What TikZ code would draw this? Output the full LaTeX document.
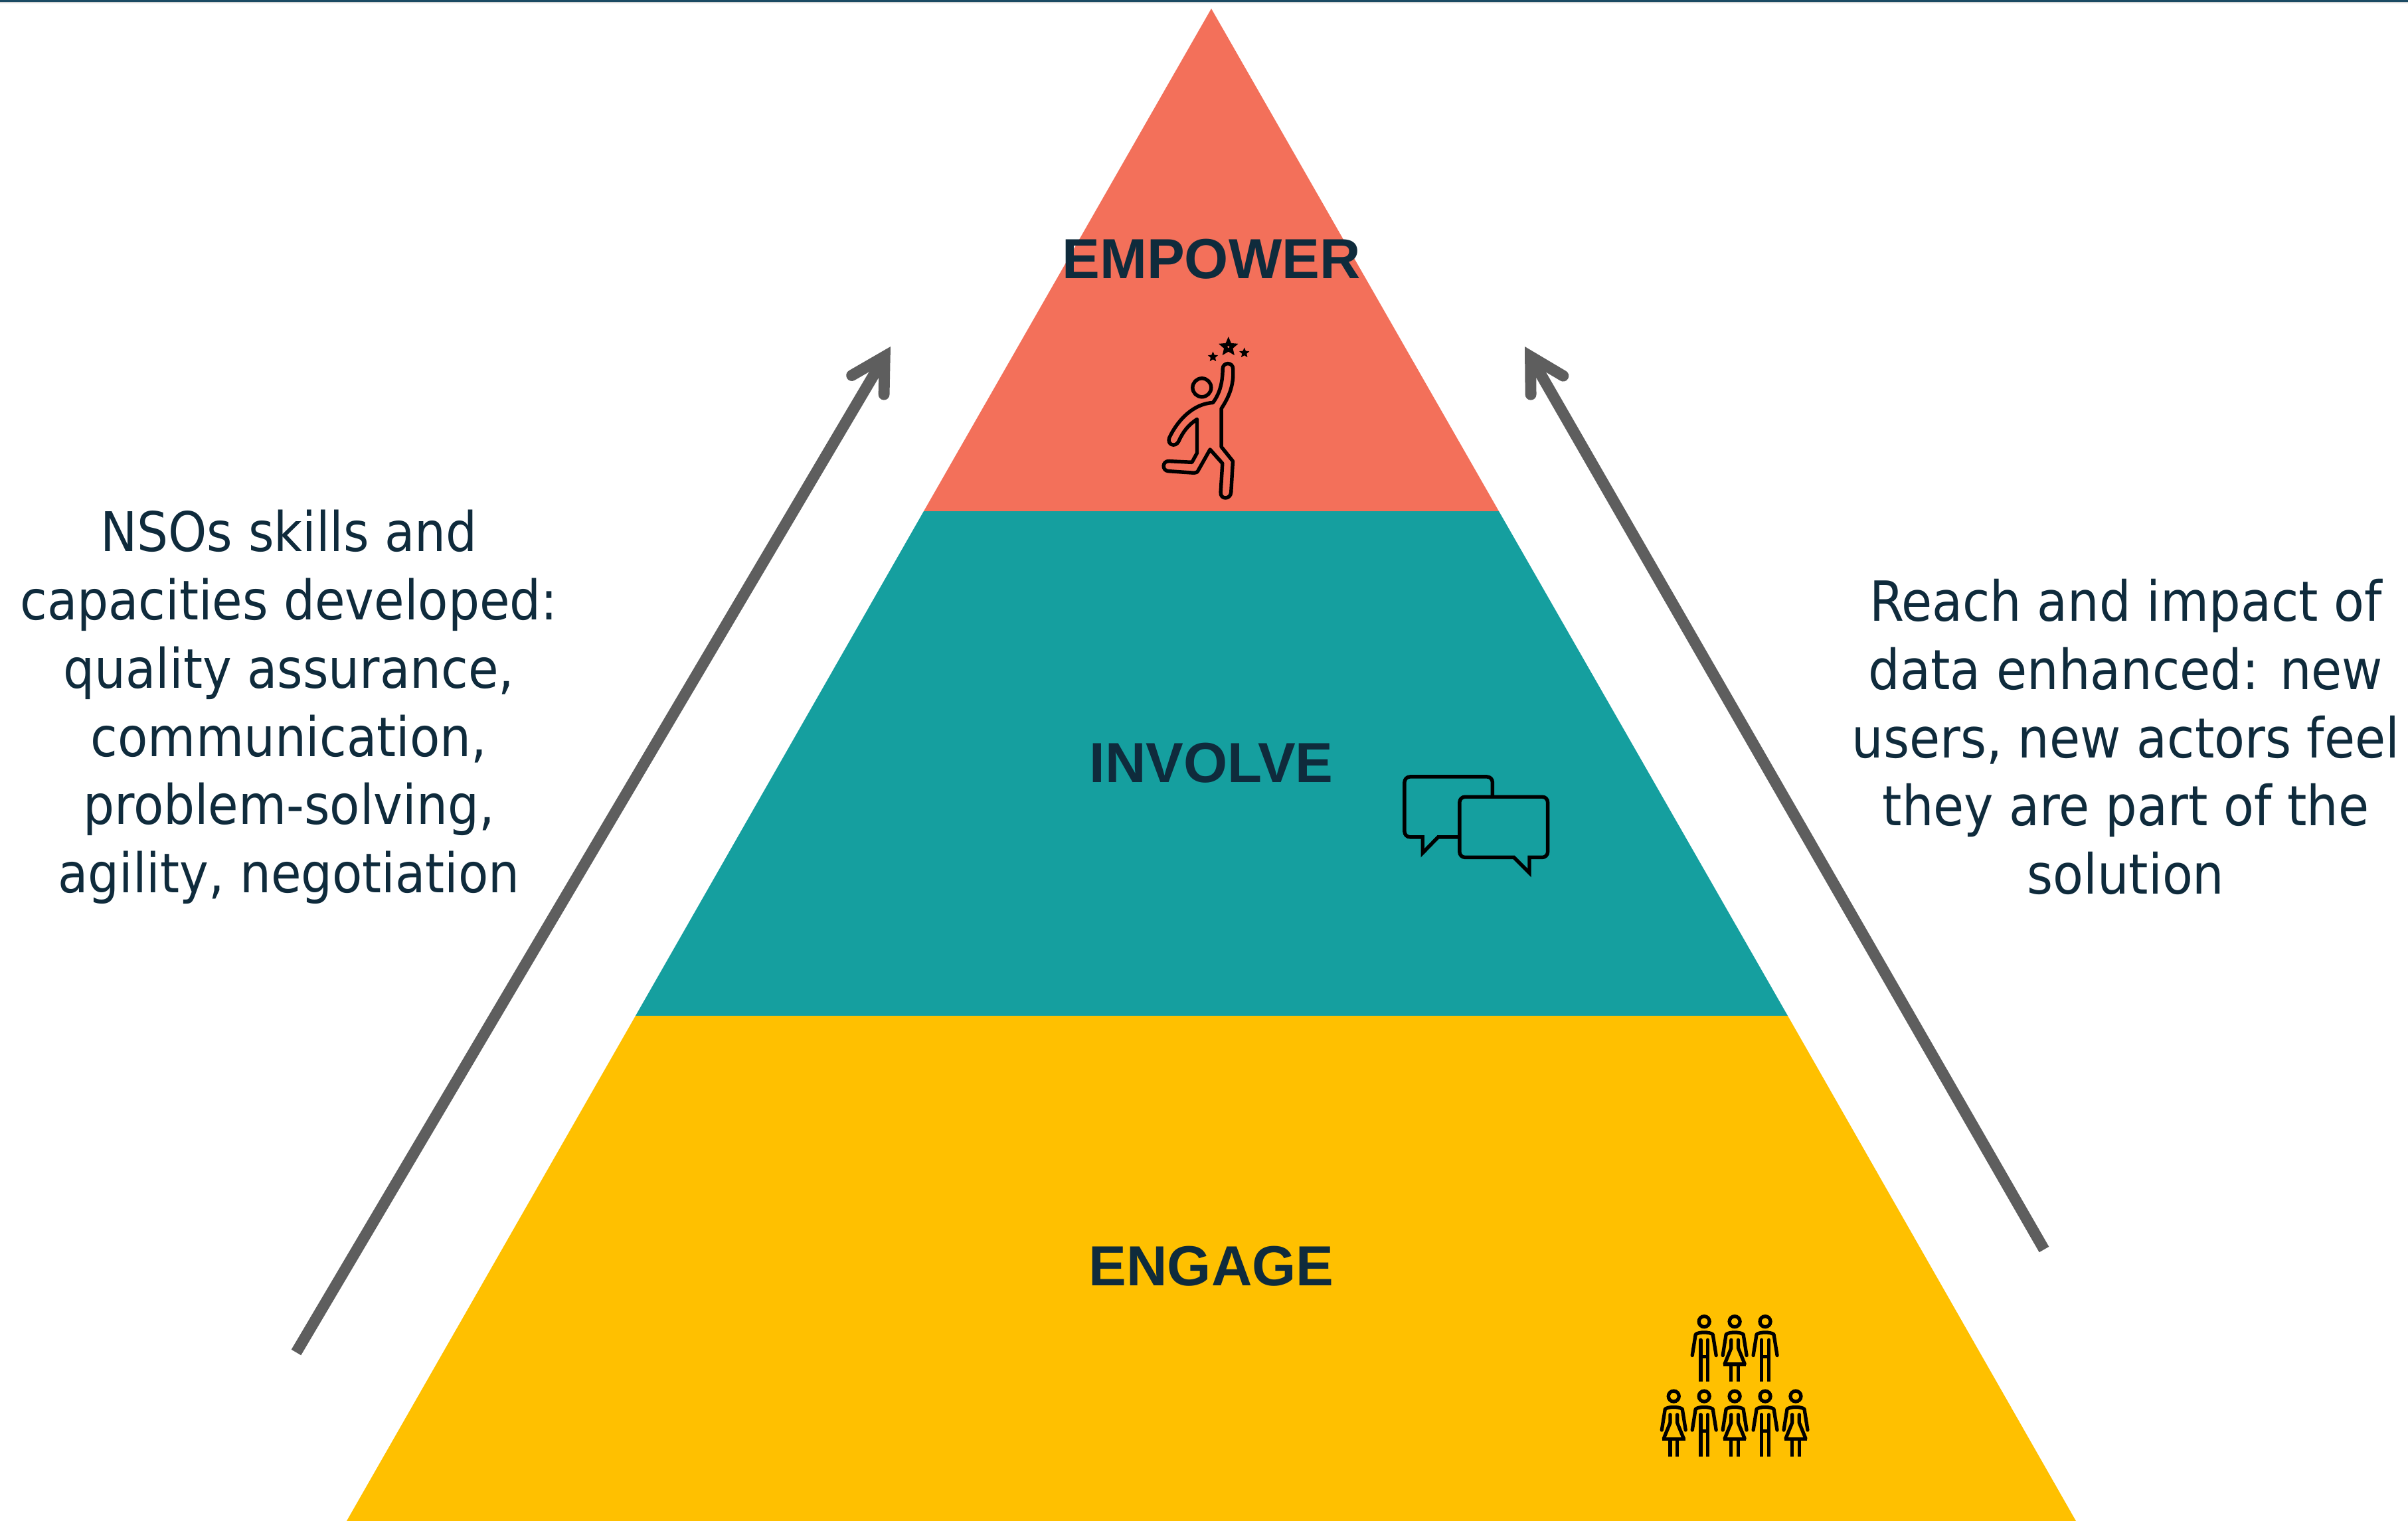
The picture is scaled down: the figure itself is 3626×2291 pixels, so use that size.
\documentclass[tikz,border=0pt]{standalone}
\usepackage{fontspec}
\setmainfont{DejaVu Sans Condensed}
\newfontfamily\labelfont{Liberation Sans}
\usetikzlibrary{arrows.meta,shapes.geometric}
\definecolor{cred}{HTML}{F3705A}
\definecolor{cteal}{HTML}{159F9F}
\definecolor{cyel}{HTML}{FFC000}
\definecolor{cgray}{HTML}{5E5E5E}
\definecolor{ctext}{HTML}{0F2B3C}
\definecolor{ctop}{HTML}{1B4A63}
\tikzset{
 tierlabel/.style={font=\labelfont\bfseries\fontsize{24.2}{28}\selectfont,text=ctext,inner sep=0pt,anchor=center},
 sidetext/.style={font=\fontsize{23.4}{29.2}\selectfont,text=ctext,align=center,inner sep=0pt,anchor=center},
 sidetextb/.style={sidetext,font=\fontsize{23.7}{29.2}\selectfont},
 bigarrow/.style={draw=cgray,line width=4.8pt,-{Straight Barb[length=14.2pt,width=16pt,line cap=round,line join=miter]}},
 iconline/.style={draw=black,line width=1.55pt,line join=round},
 bubble/.style={draw=black,line width=1.55pt,line join=miter,miter limit=10},
 pers/.style={draw=black,line width=1.5pt},
 starmark/.style={star,star points=5,star point ratio=2.2,fill=black,inner sep=0pt,draw=none},
 personm/.pic={
  \draw[pers] (0,92) circle (24);
  \draw[pers,line cap=round,line join=round] (-54,245) -- (-39,150) .. controls (-24,138) and (24,138) .. (39,150) -- (54,245);
  \draw[pers,line cap=round] (-16,175) -- (-16,300);
  \draw[pers,line cap=round] (16,175) -- (16,300);
  \draw[pers] (-16,300) -- (-16,365) (16,300) -- (16,365) (-16,250) -- (16,250);
 },
 personw/.pic={
  \draw[pers] (0,92) circle (24);
  \draw[pers,line cap=round,line join=round] (-54,245) -- (-39,150) .. controls (-24,138) and (24,138) .. (39,150) -- (54,245);
  \draw[pers,line cap=round,line join=round] (-16,175) -- (-16,212) -- (-45,283);
  \draw[pers,line cap=round,line join=round] (16,175) -- (16,212) -- (45,283);
  \draw[pers] (-52,285) -- (52,285) (-16,285) -- (-16,365) (16,285) -- (16,365);
 },
}
\begin{document}
\begin{tikzpicture}[x=0.01cm,y=-0.01cm]
\useasboundingbox (0,0) rectangle (3626,2291);
\fill[white] (0,0) rectangle (3626,2291);
\fill[ctop] (0,0) rectangle (3626,3.5);
\fill[gray!30] (0,3.5) rectangle (3626,5);
% pyramid
\fill[cred] (1824,13) -- (2257,770) -- (1391,770) -- cycle;
\fill[cteal] (1391,770) -- (2257,770) -- (2692,1530) -- (957,1530) -- cycle;
\fill[cyel] (957,1530) -- (2692,1530) -- (3126,2291) -- (522,2291) -- cycle;
\node[tierlabel] (empower) at (1824,390) {EMPOWER};
\node[tierlabel] (involve) at (1824,1149) {INVOLVE};
\node[tierlabel] (engage) at (1824,1907) {ENGAGE};
% side text
\node[sidetext] (lefttext) at (435,1065) {NSOs skills and\\capacities developed:\\quality assurance,\\communication,\\problem-solving,\\agility, negotiation};
\node[sidetextb] (righttext) at (3201,1110) {Reach and impact of\\data enhanced: new\\users, new actors feel\\they are part of the\\solution};
% arrows
\coordinate (la) at (446,2037);
\coordinate (lb) at (1341,522);
\coordinate (ra) at (3078,1882);
\coordinate (rb) at (2296,522);
\draw[bigarrow] (la) -- (lb);
\draw[bigarrow] (ra) -- (rb);
% jumper icon
\begin{scope}[shift={(1700,480)},x=0.003333cm,y=-0.003333cm]
 \draw[iconline] (330,312) circle (42);
 \draw[iconline] (424,228) .. controls (424,195) and (471,195) .. (471,228) -- (471,260)
  .. controls (468,320) and (445,365) .. (418,407) -- (418,580) -- (470,645) -- (462,785)
  .. controls (460,820) and (412,820) .. (415,785) -- (423,655) -- (367,592) -- (316,682)
  .. controls (310,695) and (305,698) .. (295,698) -- (178,690)
  .. controls (148,688) and (150,642) .. (182,645) -- (285,650) -- (308,608) -- (308,455)
  .. controls (270,480) and (245,510) .. (225,555)
  .. controls (210,585) and (170,570) .. (183,538)
  .. controls (220,460) and (290,385) .. (380,380)
  .. controls (410,340) and (424,290) .. (424,228) -- cycle;
 \node[starmark,minimum size=8.8pt] (star1) at (450,128) {};
 \node[starmark,minimum size=4.6pt] (star2) at (380,173) {};
 \node[starmark,minimum size=4.6pt] (star3) at (522,155) {};
 \fill[cred] (450,128) circle (5);
\end{scope}
% speech bubbles
\begin{scope}[shift={(2080,1140)},x=0.003333cm,y=-0.003333cm]
 \draw[bubble] (503,181) -- (503,115) .. controls (503,101) and (492,90) .. (478,90) -- (130,90)
   .. controls (116,90) and (105,101) .. (105,115) -- (105,338) .. controls (105,352) and (116,363) .. (130,363)
   -- (187,363) -- (187,435) -- (257,363) -- (354,363);
 \draw[bubble] (379,181) -- (728,181) .. controls (742,181) and (753,192) .. (753,206) -- (753,430)
   .. controls (753,444) and (742,455) .. (728,455) -- (670,455) -- (670,525) -- (600,455) -- (379,455)
   .. controls (365,455) and (354,444) .. (354,430) -- (354,206) .. controls (354,192) and (365,181) .. (379,181) -- cycle;
\end{scope}
% people icon
\begin{scope}[shift={(2480,1960)},x=0.003333cm,y=-0.003333cm]
 \pic at (259,0) {personm};
 \pic at (397,0) {personw};
 \pic at (535,0) {personm};
 \pic at (121,338) {personw};
 \pic at (259,338) {personm};
 \pic at (397,338) {personw};
 \pic at (535,338) {personm};
 \pic at (673,338) {personw};
\end{scope}
\end{tikzpicture}
\end{document}
